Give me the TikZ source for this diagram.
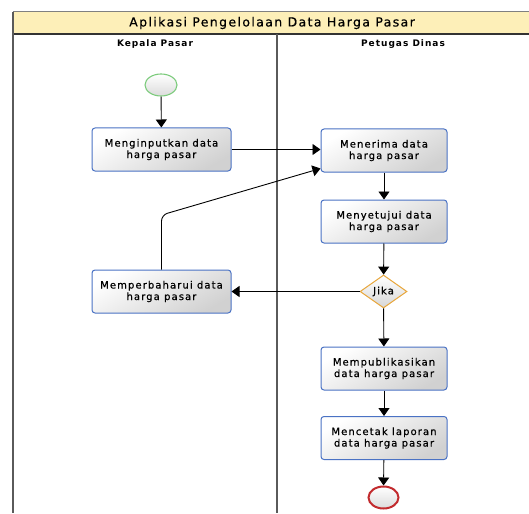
\documentclass[tikz,border=0pt]{standalone}
\usepackage{fontspec}
\setmainfont{DejaVu Sans}
\newfontfamily\boxfont{DejaVu Sans}[LetterSpace=11,FakeBold=0.6]
\newfontfamily\titlefont{DejaVu Sans}[LetterSpace=11,FakeBold=0.6]
\newfontfamily\lanefont{DejaVu Sans}[LetterSpace=11]
\usetikzlibrary{shapes.geometric,arrows.meta,calc}

\definecolor{poolfill}{HTML}{FDEFB8}
\definecolor{taskline}{HTML}{4A72C4}
\definecolor{startline}{HTML}{7CCB7C}
\definecolor{endline}{HTML}{C22B2E}
\definecolor{gateline}{HTML}{E8A63A}
\definecolor{laneline}{HTML}{5A5A5A}

\tikzset{
  task/.style={draw=taskline, line width=1pt, rounded corners=3pt,
    top color=white, bottom color=black!18, shading angle=30,
    minimum width=139pt, minimum height=43pt, inner sep=1pt,
    align=center, font=\boxfont\fontsize{10}{11.5}\selectfont},
  taskr/.style={task, minimum width=126pt},
  startev/.style={ellipse, draw=startline, line width=1.1pt,
    top color=white, bottom color=black!14,
    minimum width=32pt, minimum height=22pt, inner sep=0pt},
  endev/.style={ellipse, draw=endline, line width=2pt,
    top color=white, bottom color=black!14,
    minimum width=30pt, minimum height=22pt, inner sep=0pt},
  gate/.style={diamond, draw=gateline, line width=1pt,
    top color=white, bottom color=black!16, shape aspect=1.42,
    minimum width=47pt, minimum height=33pt, inner sep=0pt,
    font=\boxfont\fontsize{10}{11.5}\selectfont},
  flow/.style={line width=0.9pt, draw=black,
    -{Triangle[width=11pt,length=8pt]}},
}

\begin{document}
\begin{tikzpicture}[x=1pt,y=-1pt]
\useasboundingbox (0,0) rectangle (529,513);

% pool header and lane frame
\fill[poolfill] (13,12) rectangle (531,34);
\draw[line width=1pt, black!50] (13,12) -- (531,12);
\draw[line width=1.3pt, black!80] (13,34) -- (531,34);
\draw[line width=1.4pt, laneline] (13,12) -- (13,513);
\draw[line width=1.4pt, laneline] (277,34) -- (277,513);

\node[font=\titlefont\fontsize{12.5}{14}\selectfont] (pooltitle) at (272,23) {Aplikasi Pengelolaan Data Harga Pasar};
\node[font=\lanefont\bfseries\fontsize{9}{11}\selectfont] (lanea) at (155,44) {Kepala Pasar};
\node[font=\lanefont\bfseries\fontsize{9}{11}\selectfont] (laneb) at (403,44) {Petugas Dinas};

% events, tasks and gateway
\node[startev] (start) at (161,85) {};
\node[task] (input) at (161.5,149.5) {Menginputkan data\\harga pasar};
\node[taskr] (terima) at (384,150.5) {Menerima data\\harga pasar};
\node[taskr] (setuju) at (384,221.5) {Menyetujui data\\harga pasar};
\node[task] (update) at (161.5,291.5) {Memperbaharui data\\harga pasar};
\node[gate] (jika) at (383.5,291.5) {Jika};
\node[taskr] (publish) at (384,368.5) {Mempublikasikan\\data harga pasar};
\node[taskr] (cetak) at (384,438) {Mencetak laporan\\data harga pasar};
\node[endev] (finish) at (383.5,497.5) {};

% sequence flows
\coordinate (bend) at (161.5,215);
\draw[flow] (start) -- (input);
\draw[flow] (input.east) -- (input.east -| terima.west);
\draw[flow, rounded corners=6pt] (update.north) -- (bend) -- ([yshift=4pt]terima.south west);
\draw[flow] (terima) -- (setuju);
\draw[flow] (setuju) -- (jika);
\draw[flow] (jika.west) -- (update.east);
\draw[flow] (jika) -- (publish);
\draw[flow] (publish) -- (cetak);
\draw[flow] (cetak) -- (finish);
\end{tikzpicture}
\end{document}
